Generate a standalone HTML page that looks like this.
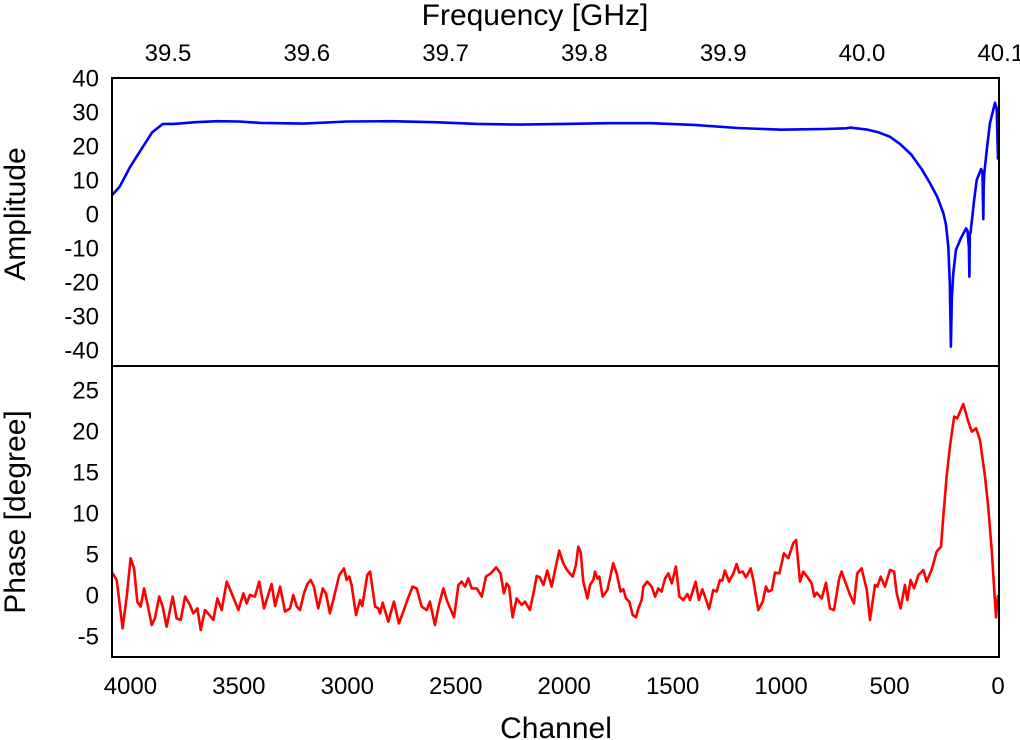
<!DOCTYPE html>
<html><head><meta charset="utf-8"><style>
html,body{margin:0;padding:0;background:#fff}
svg{display:block;font-family:"Liberation Sans",sans-serif}
</style></head><body>
<svg id="chart" width="1020" height="740" viewBox="0 0 1020 740" xmlns="http://www.w3.org/2000/svg"></svg>
<script>
const channelTicks=[4000,3500,3000,2500,2000,1500,1000,500,0];
const freqTicks=["39.5","39.6","39.7","39.8","39.9","40.0","40.1"];
const ampTicks=[40,30,20,10,0,-10,-20,-30,-40];
const phaseTicks=[25,20,15,10,5,0,-5];
const ampChannels=[4085,4050,4000,3950,3900,3850,3800,3700,3600,3500,3400,3200,3000,2800,2600,2400,2200,2000,1800,1600,1400,1200,1000,900,800,700,682,600,550,498,450,400,350,313,280,252,240,229,222,217,213,206,194,170,147,140,134,132,130,127,110,98,78,72,68,66,63,50,37,14,6,0];
const ampValues=[5.5,8,14,19,24,26.5,26.5,27,27.3,27.2,26.8,26.6,27.2,27.3,27,26.5,26.3,26.5,26.7,26.7,26.2,25.3,24.8,24.9,25,25.2,25.4,24.8,24,22.7,20.5,17.5,13,9,5,0.3,-3,-9.6,-20,-39,-25,-17.4,-10.6,-7,-4.2,-5,-10,-18.4,-6,-5.6,4,10,13.2,12.5,-1.5,8,12,20,26.8,32.7,31,16];
const phaseChannels=[4086,4063,4036,4017,3999,3983,3968,3953,3937,3922,3902,3887,3867,3851,3833,3805,3787,3768,3748,3725,3710,3691,3676,3656,3636,3618,3599,3579,3556,3533,3502,3479,3464,3449,3426,3406,3384,3349,3333,3310,3287,3264,3249,3233,3218,3200,3184,3169,3154,3134,3113,3098,3080,3061,3037,
3015,3003,2991,2980,2960,2941,2931,2908,2895,2872,2857,2849,2837,2811,2785,2762,2742,2723,2699,2680,2657,2634,2619,2596,2576,2557,2539,2508,2488,2473,2457,2442,2427,2403,2380,2361,2339,2314,2293,2278,2265,2254,2238,2219,2196,2181,2158,2139,2127,2112,2096,2078,2058,2023,
2004,1989,1981,1961,1946,1935,1924,1912,1893,1881,1866,1858,1847,1838,1823,1801,1774,1758,1740,1727,1715,1700,1684,1669,1658,1643,1635,1617,1597,1581,1566,1551,1535,1520,1504,1485,1469,1451,1432,1420,1394,1379,1363,1351,1332,1313,1297,1282,1271,1259,1240,1220,1205,1193,1177,1162,1140,1128,1105,1085,1070,1059,1043,1028,1008,
987,967,944,931,913,898,874,859,847,836,813,793,775,756,732,721,705,682,664,649,629,605,590,567,556,541,521,498,479,467,449,429,418,403,387,367,344,329,306,283,263,252,237,221,202,188,160,137,121,101,83,60,45,29,9,0];
const phaseValues=[2.84,1.83,-4.06,-0.2,4.47,3.25,-0.81,-1.42,0.81,-1.02,-3.66,-2.85,-0.2,-1.42,-3.86,-0.2,-2.85,-3.05,-0.2,-1.22,-2.24,-1.63,-4.27,-1.83,-2.44,-3.05,-0.41,-1.83,1.63,0.2,-1.83,0.2,-1.02,0,-0.2,1.63,-1.63,1.34,-1.34,1.02,-2.03,-1.63,0,-1.42,-1.83,0.2,1.34,1.83,1.02,-1.63,0.81,0.2,-2.24,-0.2,2.44,
3.25,1.83,2.24,1.22,-2.44,-0.61,-1.34,2.44,2.85,-1.42,-1.63,-2.24,-0.94,-3.25,-0.81,-3.46,-2.03,-0.61,1.02,0.81,-1.42,-1.83,-0.81,-3.66,-1.02,0.81,-0.81,-2.72,1.22,1.63,1.02,2.03,0.81,0.81,-0.2,2.24,2.64,3.37,2.64,0.2,1.42,1.02,-2.72,-0.41,-1.22,-0.81,-1.83,0.61,2.32,2.15,1.22,2.97,1.02,5.41,
3.86,3.13,2.85,2.24,3.66,5.89,5.2,1.63,-0.41,1.22,1.83,2.85,2.03,2.24,-0.2,0.61,3.86,2.64,0.41,0.69,-0.41,-0.81,-2.44,-2.72,-1.63,-0.61,1.02,1.63,1.02,-0.2,0.81,0.41,2.03,2.64,1.42,3.46,-0.2,-0.61,0.12,-0.61,1.63,-0.61,0.69,-0.2,-1.71,0.61,0.41,1.83,1.75,2.97,1.63,2.64,3.78,2.73,2.85,2.15,3.25,1.83,-1.83,-0.81,1.02,0.41,0.61,2.73,2.64,
5.08,4.47,6.3,6.71,1.63,2.85,2.03,1.42,-0.2,0.28,-0.41,1.5,-1.63,-1.83,2.03,2.85,1.63,0,-1.02,2.64,3.25,0.61,-3.05,1.22,1.02,2.24,1.02,3.05,2.85,0.2,-1.63,1.22,-0.61,1.83,0.81,2.44,3.05,1.63,3.05,5.28,5.89,9.55,14.43,18.29,21.75,21.54,23.29,21.14,19.92,20.33,18.9,14.43,10.77,5.49,-2.72,0];

const svg=document.getElementById('chart');
const NS='http://www.w3.org/2000/svg';
const L=112,R=999,T1=78,M=366,B=657;
function xCh(c){return 998-c*0.2169;}
function xFr(f){return 168+(f-39.5)*1388;}
function yAmp(a){return 214-3.4*a;}
function yPh(p){return 595-8.2*p;}
function mk(tag,attrs,parent){const e=document.createElementNS(NS,tag);for(const k in attrs)e.setAttribute(k,attrs[k]);(parent||svg).appendChild(e);return e;}
function txt(s,x,y,anchor,size,parent){const e=mk('text',{x:x,y:y,'text-anchor':anchor,'font-size':size,fill:'#000'},parent);e.textContent=s;return e;}

const clip=mk('clipPath',{id:'c1'});mk('rect',{x:L,y:T1,width:R-L,height:M-T1},clip);
const clip2=mk('clipPath',{id:'c2'});mk('rect',{x:L,y:M,width:R-L,height:B-M},clip2);

let d='';ampChannels.forEach((c,i)=>{d+=(i?'L':'M')+xCh(c).toFixed(1)+','+yAmp(ampValues[i]).toFixed(1);});
const al=mk('path',{d:d,fill:'none',stroke:'#0000ff','stroke-width':2.6,'stroke-linejoin':'round','clip-path':'url(#c1)'});


d='';phaseChannels.forEach((c,i)=>{d+=(i?'L':'M')+xCh(c).toFixed(1)+','+yPh(phaseValues[i]).toFixed(1);});
const pl=mk('path',{d:d,fill:'none',stroke:'#ff0000','stroke-width':2.6,'stroke-linejoin':'round','clip-path':'url(#c2)'});



const f1=mk('rect',{x:L,y:T1,width:R-L,height:M-T1,fill:'none',stroke:'#000','stroke-width':2});


const f2=mk('rect',{x:L,y:M,width:R-L,height:B-M,fill:'none',stroke:'#000','stroke-width':2});



const g1=mk('g',{});
channelTicks.forEach(c=>txt(String(c),xCh(c),694,'middle',24,g1));
const g2=mk('g',{});
freqTicks.forEach(f=>txt(f,xFr(parseFloat(f)),61,'middle',24,g2));
const g3=mk('g',{});
ampTicks.forEach(a=>txt(String(a),99,yAmp(a)+8.5,'end',24,g3));
const g4=mk('g',{});
phaseTicks.forEach(p=>txt(String(p),99,yPh(p)+8.5,'end',24,g4));

const t1=txt('Channel',556,738,'middle',30);
const t2=txt('Frequency [GHz]',535,25,'middle',30);
const t3=txt('Amplitude',0,0,'middle',30);t3.setAttribute('transform','translate(25,214) rotate(-90)');
const t4=txt('Phase [degree]',0,0,'middle',30);t4.setAttribute('transform','translate(25,512) rotate(-90)');
</script>
</body></html>
